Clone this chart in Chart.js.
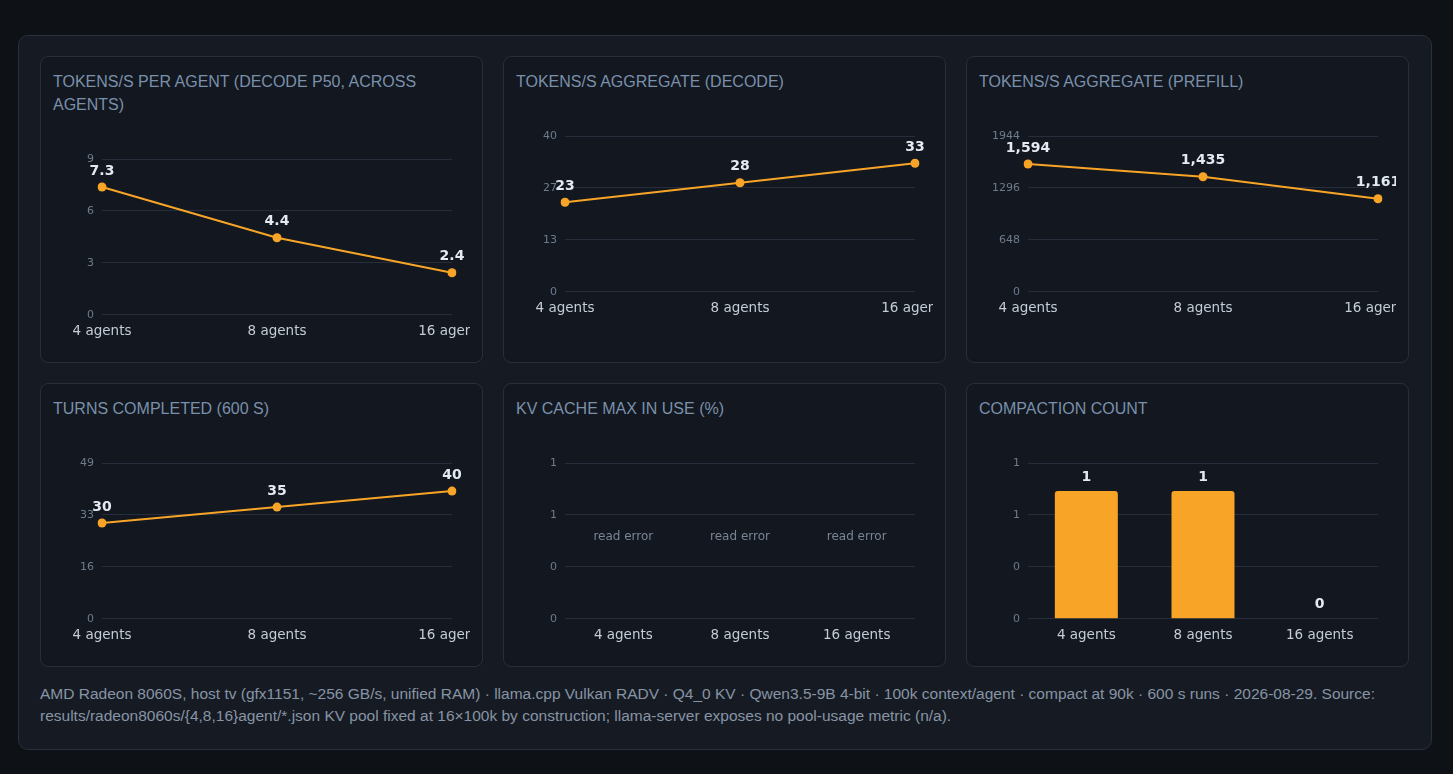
<!DOCTYPE html>
<html>
<head>
<meta charset="utf-8">
<title>Agent scaling - Radeon 8060S</title>
<script src="https://cdn.jsdelivr.net/npm/chart.js@4.4.1/dist/chart.umd.min.js"></script>
<style>
    body { margin: 0; background: #0e1217; font-family: 'Liberation Sans', Arial, sans-serif; overflow: hidden; }
    .wrap { box-sizing: border-box; width: 1414px; margin: 35px 0 0 18px; padding: 20px 22px 22px 21px;
            background: #161b23; border: 1px solid #28303b; border-radius: 10px; }
    .grid { display: grid; grid-template-columns: repeat(3, 443px); gap: 20px; }
    .panel { box-sizing: border-box; background: #121720; border: 1px solid #272f3b; border-radius: 8px; padding: 13px 12px 13px 12px; }
    .panel h3 { margin: 0 0 15px 0; font-size: 16px; line-height: 23px; font-weight: normal; color: #7b90aa; }
    .box { position: relative; height: 218px; }
    .note { margin-top: 16px; font-size: 15.5px; line-height: 22px; color: #8794a5; }
</style>
</head>
<body>
<div class="wrap">
    <div class="grid">
        <div class="panel"><h3>TOKENS/S PER AGENT (DECODE P50, ACROSS AGENTS)</h3><div class="box"><canvas id="c1"></canvas></div></div>
        <div class="panel"><h3>TOKENS/S AGGREGATE (DECODE)</h3><div class="box"><canvas id="c2"></canvas></div></div>
        <div class="panel"><h3>TOKENS/S AGGREGATE (PREFILL)</h3><div class="box"><canvas id="c3"></canvas></div></div>
        <div class="panel"><h3>TURNS COMPLETED (600 S)</h3><div class="box"><canvas id="c4"></canvas></div></div>
        <div class="panel"><h3>KV CACHE MAX IN USE (%)</h3><div class="box"><canvas id="c5"></canvas></div></div>
        <div class="panel"><h3>COMPACTION COUNT</h3><div class="box"><canvas id="c6"></canvas></div></div>
    </div>
    <div class="note">AMD Radeon 8060S, host tv (gfx1151, ~256 GB/s, unified RAM) · llama.cpp Vulkan RADV · Q4_0 KV · Qwen3.5-9B 4-bit · 100k context/agent · compact at 90k · 600 s runs · 2026-08-29. Source:<br>results/radeon8060s/{4,8,16}agent/*.json KV pool fixed at 16×100k by construction; llama-server exposes no pool-usage metric (n/a).</div>
</div>
<script>
const agentLabels = ['4 agents', '8 agents', '16 agents'];

const decodePerAgent   = [7.3, 4.4, 2.4];
const decodeAggregate  = [23, 28, 33];
const prefillAggregate = [1594, 1435, 1161];
const turnsCompleted   = [30, 35, 40];
const kvMaxInUse       = [null, null, null];
const compactionCount  = [1, 1, 0];

// y axis tick labels, bottom to top
const perAgentTicks   = ['0', '3', '6', '9'];
const decodeTicks     = ['0', '13', '27', '40'];
const prefillTicks    = ['0', '648', '1296', '1944'];
const turnsTicks      = ['0', '16', '33', '49'];
const kvTicks         = ['0', '0', '1', '1'];
const compactionTicks = ['0', '0', '1', '1'];

// top of each y axis
const axisTop = [8.9, 40, 1944, 48.8, 1.22, 1.22];

const missingText = 'read error';
const orange = '#f8a427';

Chart.defaults.font.family = "'DejaVu Sans', sans-serif";
Chart.defaults.animation = false;

const valueLabels = {
    id: 'valueLabels',
    afterDatasetsDraw(chart, args, opts)
    {
        const ctx = chart.ctx;
        const meta = chart.getDatasetMeta(0);
        const values = chart.data.datasets[0].data;
        const area = chart.chartArea;
        ctx.save();
        ctx.textAlign = 'center';
        ctx.textBaseline = 'middle';
        values.forEach((v, i) =>
        {
            if (v === null)
            {
                ctx.font = '12px "DejaVu Sans"';
                ctx.fillStyle = '#7a8593';
                const x = chart.scales.x.getPixelForValue(i);
                ctx.fillText(missingText, x, (area.top + area.bottom) / 2 - 4);
                return;
            }
            const el = meta.data[i];
            ctx.font = 'bold 14px "DejaVu Sans"';
            ctx.fillStyle = '#e4eaf1';
            ctx.fillText(opts.format(v), el.x, el.y - opts.offset);
        });
        ctx.restore();
    }
};

function makeChart(id, type, values, top, tickLabels, format)
{
    const isBar = type === 'bar';
    const ds = isBar ?
    {
        data: values,
        backgroundColor: orange,
        borderRadius: 3,
        categoryPercentage: 0.6,
        barPercentage: 0.9
    } :
    {
        data: values,
        borderColor: orange,
        backgroundColor: orange,
        borderWidth: 2,
        pointRadius: 4.5,
        pointBackgroundColor: orange,
        pointBorderWidth: 0,
        tension: 0
    };

    new Chart(document.getElementById(id), {
        type: type,
        data: { labels: agentLabels, datasets: [ds] },
        plugins: [valueLabels],
        options:
        {
            responsive: true,
            maintainAspectRatio: false,
            layout: { padding: { top: 28, right: 18, left: 0, bottom: 0 } },
            plugins:
            {
                legend: { display: false },
                tooltip: { enabled: false },
                valueLabels: { format: format, offset: isBar ? 14 : 16 }
            },
            scales:
            {
                x:
                {
                    grid: { display: false, drawTicks: false },
                    border: { display: false },
                    ticks: { color: '#c5cdd6', font: { size: 13.5 }, padding: 9, maxRotation: 0, autoSkip: false },
                    afterFit: (s) => { s.paddingLeft = 0; s.paddingRight = 0; }
                },
                y:
                {
                    min: 0,
                    max: top,
                    grid: { color: '#262e3b', drawTicks: false },
                    border: { display: false },
                    ticks: { color: '#6f7c8c', font: { size: 11 }, padding: 8, callback: (v, i) => tickLabels[i] },
                    afterBuildTicks: (s) => { s.ticks = [0, 1, 2, 3].map(k => ({ value: top * k / 3 })); },
                    afterFit: (s) => { s.width = 49; }
                }
            }
        }
    });
}

const whole = v => Math.round(v).toLocaleString('en-US');

makeChart('c1', 'line', decodePerAgent, axisTop[0], perAgentTicks, v => v.toFixed(1));
makeChart('c2', 'line', decodeAggregate, axisTop[1], decodeTicks, whole);
makeChart('c3', 'line', prefillAggregate, axisTop[2], prefillTicks, whole);
makeChart('c4', 'line', turnsCompleted, axisTop[3], turnsTicks, whole);
makeChart('c5', 'bar', kvMaxInUse, axisTop[4], kvTicks, whole);
makeChart('c6', 'bar', compactionCount, axisTop[5], compactionTicks, whole);
</script>
</body>
</html>
